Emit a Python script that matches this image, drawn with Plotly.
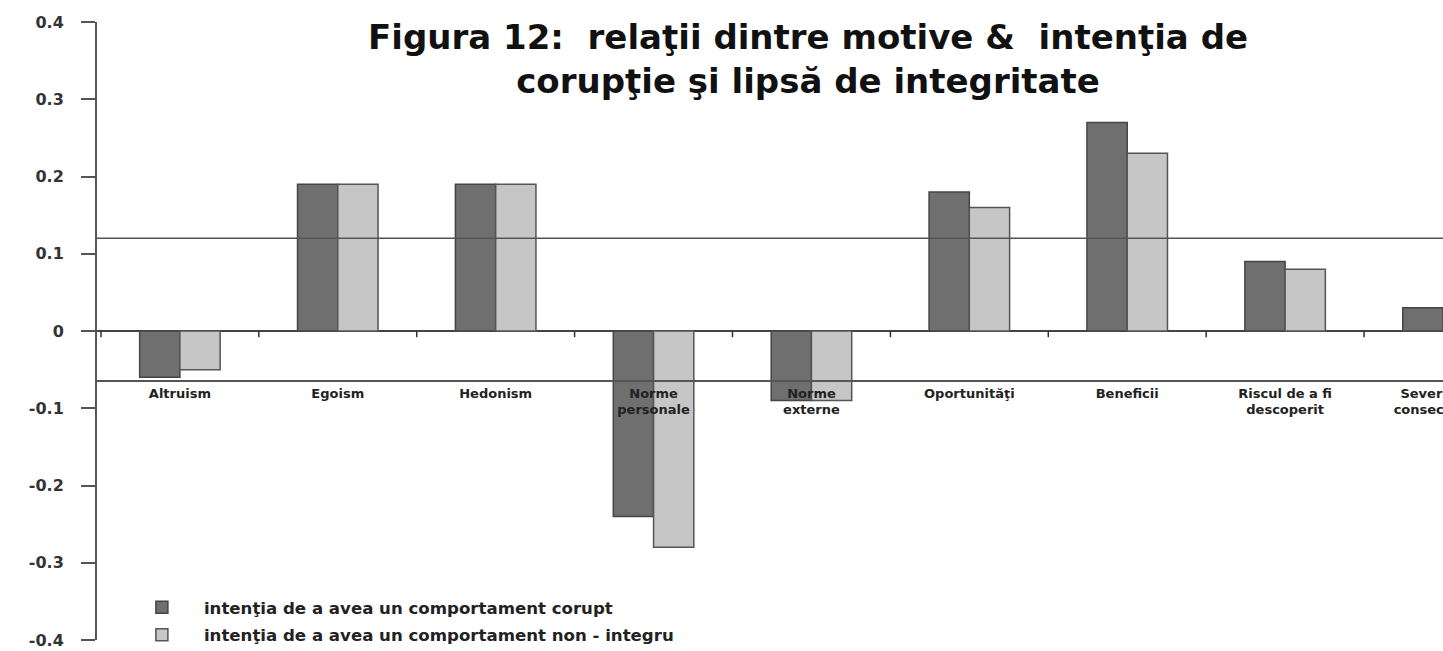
import plotly.graph_objects as go

categories = ["Altruism", "Egoism", "Hedonism", "Norme<br>personale", "Norme<br>externe",
              "Oportunităţi", "Beneficii", "Riscul de a fi<br>descoperit", "Severitatea<br>consecinţelor"]
corupt = [-0.06, 0.19, 0.19, -0.24, -0.09, 0.18, 0.27, 0.09, 0.03]
non_integru = [-0.05, 0.19, 0.19, -0.28, -0.09, 0.16, 0.23, 0.08, 0.02]
series_names = ["intenţia de a avea un comportament corupt",
                "intenţia de a avea un comportament non - integru"]
y_ticks = [0.4, 0.3, 0.2, 0.1, 0, -0.1, -0.2, -0.3, -0.4]
y_ticktext = ["0.4", "0.3", "0.2", "0.1", "0", "-0.1", "-0.2", "-0.3", "-0.4"]
upper_line = 0.12
label_line = -0.065
title_text = "Figura 12:  relaţii dintre motive &  intenţia de<br>corupţie şi lipsă de integritate"

fig = go.Figure()
fig.add_trace(go.Bar(x=categories, y=corupt, name=series_names[0],
                     marker=dict(color="#6f6f6f", line=dict(color="#454545", width=1.5)),
                     legendgroup="a"))
fig.add_trace(go.Bar(x=categories, y=non_integru, name=series_names[1],
                     marker=dict(color="#c6c6c6", line=dict(color="#555555", width=1.5)),
                     legendgroup="b"))

# boundary tick marks on the zero line
for i in range(len(categories) + 1):
    fig.add_shape(type="line", xref="x", yref="y", x0=i - 0.5, x1=i - 0.5,
                  y0=0, y1=-0.008, line=dict(color="#333", width=1.5))

fig.add_shape(type="line", xref="paper", yref="y", x0=0, x1=1, y0=upper_line, y1=upper_line,
              line=dict(color="#555", width=1.5))

fig.add_annotation(text=title_text, xref="paper", yref="paper", x=0.528, y=1.0,
                   xanchor="center", yanchor="top", yshift=7, showarrow=False,
                   font=dict(family="DejaVu Sans", size=34, color="#111", weight="bold"))

fig.update_layout(
    width=1443, height=651,
    paper_bgcolor="white", plot_bgcolor="white",
    margin=dict(l=97, r=0, t=22, b=11, autoexpand=False),
    barmode="group", bargap=0.49, bargroupgap=0,
    showlegend=True,
    legend=dict(x=0.017, y=0.081, xanchor="left", yanchor="top",
                font=dict(family="DejaVu Sans", size=16.6, color="#222", weight="bold"),
                traceorder="grouped", tracegroupgap=3, itemwidth=74,
                bgcolor="rgba(0,0,0,0)"),
    xaxis=dict(type="category", range=[-0.525, 8.0], anchor="free",
               position=(label_line + 0.4) / 0.8, automargin=False,
               showline=True, linecolor="#555", linewidth=1.5,
               ticks="", showgrid=False,
               tickfont=dict(family="DejaVu Sans", size=13, color="#222", weight="bold")),
    yaxis=dict(range=[-0.4, 0.4], tickvals=y_ticks, ticktext=y_ticktext, automargin=False,
               showline=True, linecolor="#555", linewidth=2,
               ticks="outside", ticklen=14, tickcolor="#555", tickwidth=1.5,
               ticklabelstandoff=14,
               showgrid=False, zeroline=True, zerolinecolor="#444", zerolinewidth=1.5,
               tickfont=dict(family="DejaVu Sans", size=16, color="#333", weight="bold")),
)

fig.write_html("out.html", config={"displayModeBar": False},
               post_script="document.body.style.margin='0';document.body.style.overflow='hidden';")
